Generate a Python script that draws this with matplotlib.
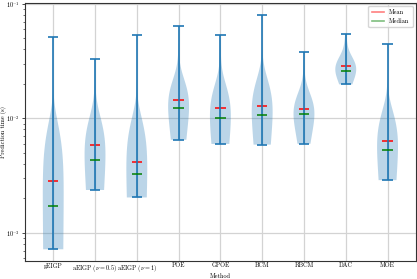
import numpy as np
import matplotlib
matplotlib.use("Agg")
import matplotlib.pyplot as plt
from matplotlib.lines import Line2D

plt.rcParams['font.family'] = ['cmr10', 'DejaVu Serif']
plt.rcParams['mathtext.fontset'] = 'cm'
plt.rcParams['axes.formatter.use_mathtext'] = True

methods = ["gEIGP", r"aEIGP ($\nu = 0.5$)", r"aEIGP ($\nu = 1$)", "POE", "GPOE",
           "BCM", "RBCM", "DAC", "MOE"]

# prediction times (s): distinct values and how often each occurs
geigp_vals = [0.00072, 0.0009, 0.0011, 0.0013, 0.0015, 0.0016, 0.00171, 0.0019, 0.0022,
              0.0026, 0.0032, 0.004, 0.005, 0.0065, 0.009, 0.012, 0.0516]
geigp_cnts = [1, 4, 10, 12, 12, 10, 2, 10, 9, 8, 7, 5, 4, 3, 1, 1, 1]

aeigp05_vals = [0.00237, 0.0028, 0.0032, 0.0036, 0.0039, 0.0042, 0.00434, 0.0047, 0.0052,
                0.0058, 0.0066, 0.008, 0.0105, 0.013, 0.02, 0.0328]
aeigp05_cnts = [1, 4, 8, 12, 12, 12, 2, 8, 8, 8, 7, 6, 5, 4, 2, 1]

aeigp1_vals = [0.00204, 0.0023, 0.0026, 0.0029, 0.0031, 0.0032, 0.00326, 0.0035, 0.0036,
               0.004, 0.0045, 0.0052, 0.006, 0.0072, 0.009, 0.053]
aeigp1_cnts = [1, 4, 10, 12, 12, 10, 2, 10, 9, 8, 7, 6, 4, 2, 2, 1]

poe_vals = [0.0065, 0.008, 0.0095, 0.0105, 0.0113, 0.0119, 0.0123, 0.0128, 0.0135, 0.0145,
            0.016, 0.018, 0.022, 0.028, 0.035, 0.045, 0.0644]
poe_cnts = [1, 3, 7, 12, 13, 13, 2, 10, 9, 8, 7, 5, 4, 3, 1, 1, 1]

gpoe_vals = [0.00598, 0.0068, 0.0076, 0.0084, 0.0091, 0.0097, 0.01007, 0.0106, 0.0113,
             0.0122, 0.0135, 0.015, 0.0175, 0.021, 0.028, 0.035, 0.045, 0.053]
gpoe_cnts = [1, 6, 10, 11, 11, 10, 2, 9, 8, 7, 7, 5, 4, 3, 2, 2, 1, 1]

bcm_vals = [0.0059, 0.0072, 0.0083, 0.0092, 0.0099, 0.0104, 0.01076, 0.0113, 0.012, 0.013,
            0.0143, 0.016, 0.0185, 0.021, 0.024, 0.028, 0.03, 0.0802]
bcm_cnts = [1, 5, 10, 11, 11, 11, 2, 9, 8, 7, 7, 5, 4, 3, 2, 2, 1, 1]

rbcm_vals = [0.006, 0.0073, 0.0084, 0.0093, 0.01, 0.0105, 0.01088, 0.0114, 0.012, 0.0128,
             0.014, 0.0157, 0.018, 0.021, 0.026, 0.0383]
rbcm_cnts = [1, 5, 10, 11, 11, 11, 2, 10, 9, 8, 7, 5, 4, 3, 2, 1]

dac_vals = [0.0198, 0.0225, 0.024, 0.025, 0.0255, 0.0258, 0.0261, 0.0268, 0.0285, 0.03,
            0.032, 0.036, 0.041, 0.046, 0.051, 0.0548]
dac_cnts = [1, 4, 8, 11, 12, 13, 2, 11, 9, 8, 6, 5, 4, 3, 2, 1]

moe_vals = [0.00289, 0.0034, 0.0039, 0.0043, 0.0047, 0.0051, 0.00527, 0.0056, 0.006, 0.0066,
            0.0073, 0.0083, 0.0096, 0.0105, 0.012, 0.014, 0.0447]
moe_cnts = [1, 6, 10, 11, 11, 10, 2, 9, 8, 7, 7, 5, 4, 3, 3, 2, 1]

all_vals = [geigp_vals, aeigp05_vals, aeigp1_vals, poe_vals, gpoe_vals, bcm_vals,
            rbcm_vals, dac_vals, moe_vals]
all_cnts = [geigp_cnts, aeigp05_cnts, aeigp1_cnts, poe_cnts, gpoe_cnts, bcm_cnts,
            rbcm_cnts, dac_cnts, moe_cnts]
data = [np.repeat(v, c) for v, c in zip(all_vals, all_cnts)]

fig = plt.figure(figsize=(4.17, 2.79), dpi=100)
ax = fig.add_axes([0.06, 0.0645, 0.937, 0.9245])

positions = np.arange(1, len(methods) + 1)
vp = ax.violinplot(data, positions=positions, showmeans=True, showmedians=True,
                   showextrema=True, bw_method=1.0)
for b in vp['bodies']:
    b.set_facecolor('#1f77b4')
    b.set_alpha(0.3)
    b.set_edgecolor('none')
for key in ['cbars', 'cmins', 'cmaxes']:
    vp[key].set_color('#1f77b4')
    vp[key].set_linewidth(1.2)
vp['cmeans'].set_color('red')
vp['cmeans'].set_linewidth(1.1)
vp['cmedians'].set_color('green')
vp['cmedians'].set_linewidth(1.1)

ax.set_yscale('log')
ax.set_xticks(positions)
ax.set_xticklabels(methods, fontsize=4.5)
ax.tick_params(axis='y', labelsize=4.5, length=2, width=0.5, pad=1.5)
ax.tick_params(axis='y', which='minor', length=1.2, width=0.4)
ax.tick_params(axis='x', length=0, pad=1.2)
ax.grid(True, which='major', color='#d3d3d3', linewidth=0.9)
ax.set_axisbelow(True)
for s in ax.spines.values():
    s.set_color('#333333')
    s.set_linewidth(0.8)
ax.set_xlabel('Method', fontsize=4.5, labelpad=-0.5)
ax.set_ylabel('Prediction time (s)', fontsize=4.5)
ax.yaxis.set_label_coords(-0.046, 0.5)

handles = [Line2D([], [], color='red', alpha=0.5, lw=1.2),
           Line2D([], [], color='green', alpha=0.5, lw=1.2)]
ax.legend(handles, ['Mean', 'Median'], loc='upper right', fontsize=4.5,
          handlelength=2.0, borderpad=0.5, labelspacing=0.5, framealpha=0.8,
          edgecolor='#cccccc')

fig.savefig('out.png', dpi=100)
